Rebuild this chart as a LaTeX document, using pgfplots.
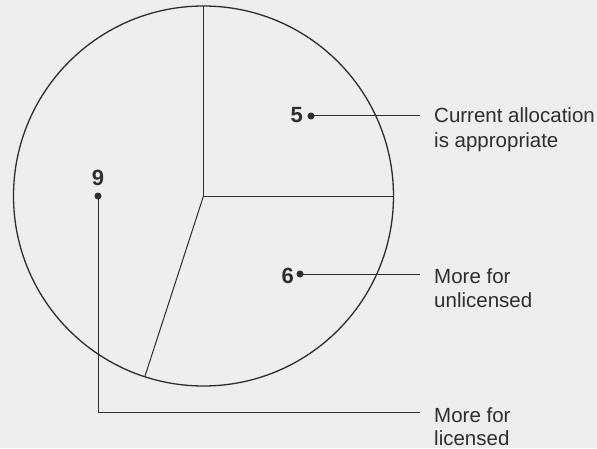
\documentclass[border=0pt]{standalone}
\usepackage{pgfplots}
\pgfplotsset{compat=1.18}
\usepackage{pgfplotstable}
\usepackage{fontspec}
\setmainfont{Liberation Sans}
\definecolor{paper}{HTML}{EEEEEE}
\definecolor{ink}{HTML}{2E2E2E}

% slice values, clockwise from 12 o'clock
\pgfplotstableread{
value
5
6
9
}\piedata

\pgfplotstablegetelem{0}{value}\of\piedata\let\va\pgfplotsretval
\pgfplotstablegetelem{1}{value}\of\piedata\let\vb\pgfplotsretval
\pgfplotstablegetelem{2}{value}\of\piedata\let\vc\pgfplotsretval
\def\cx{203.5}\def\cy{252}\def\rr{190}
\pgfmathsetmacro{\tot}{\va+\vb+\vc}
\pgfmathsetmacro{\aA}{90}
\pgfmathsetmacro{\aB}{\aA-\va/\tot*360}
\pgfmathsetmacro{\aC}{\aB-\vb/\tot*360}
\pgfmathsetmacro{\xA}{\cx+\rr*cos(\aA)}\pgfmathsetmacro{\yA}{\cy+\rr*sin(\aA)}
\pgfmathsetmacro{\xB}{\cx+\rr*cos(\aB)}\pgfmathsetmacro{\yB}{\cy+\rr*sin(\aB)}
\pgfmathsetmacro{\xC}{\cx+\rr*cos(\aC)}\pgfmathsetmacro{\yC}{\cy+\rr*sin(\aC)}

\begin{document}
\begin{tikzpicture}
\begin{axis}[
  x=1pt,y=1pt,
  xmin=0,xmax=597,ymin=0,ymax=448,
  hide axis,clip=false,
  every axis plot/.append style={ink,line width=1pt},
]
\fill[paper] (axis cs:0,0) rectangle (axis cs:597,448);
\draw[ink,line width=1.3pt] (axis cs:\cx,\cy) circle[radius=\rr];
% slice borders
\addplot[mark=none] coordinates {(\cx,\cy) (\xA,\yA)};
\addplot[mark=none] coordinates {(\cx,\cy) (\xB,\yB)};
\addplot[mark=none] coordinates {(\cx,\cy) (\xC,\yC)};
% leader lines
\addplot[mark=none] coordinates {(311,332) (420,332)};
\addplot[mark=none] coordinates {(300,174) (420,174)};
\addplot[mark=none] coordinates {(98,252) (98,36) (420,36)};
\addplot[only marks,mark=*,mark size=3pt] coordinates {(311,332) (300,174) (98,252)};
% values
\node[anchor=base east,inner sep=0,font=\fontsize{22}{24}\selectfont\bfseries,text=ink] at (axis cs:303,325) {\va};
\node[anchor=base east,inner sep=0,font=\fontsize{22}{24}\selectfont\bfseries,text=ink] at (axis cs:294,165) {\vb};
\node[anchor=base,inner sep=0,font=\fontsize{22}{24}\selectfont\bfseries,text=ink] at (axis cs:98,262) {\vc};
% labels
\begin{scope}[every node/.style={anchor=base west,inner sep=0,font=\fontsize{20.5}{24}\selectfont,text=ink}]
\node at (axis cs:434,325) {Current allocation};
\node at (axis cs:434,301) {is appropriate};
\node at (axis cs:434,165) {More for};
\node at (axis cs:434,141) {unlicensed};
\node at (axis cs:434,26) {More for};
\node at (axis cs:434,3) {licensed};
\end{scope}
\end{axis}
\end{tikzpicture}
\end{document}
